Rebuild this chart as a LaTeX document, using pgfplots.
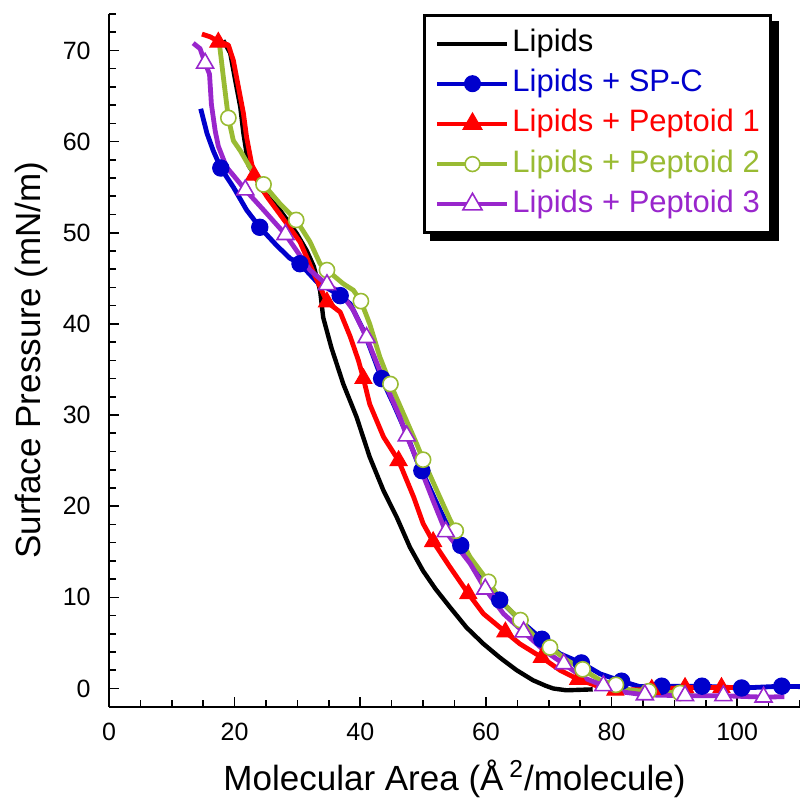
\documentclass[border=0pt]{standalone}
\usepackage{fontspec}
\setmainfont{Liberation Sans}
\usepackage{pgfplots}
\usepackage{pgfplotstable}
\pgfplotsset{compat=1.18}
\usetikzlibrary{backgrounds}
\definecolor{cblue}{RGB}{0,0,204}
\definecolor{cred}{RGB}{255,0,0}
\definecolor{cgreen}{RGB}{153,187,51}
\definecolor{cpurple}{RGB}{153,38,204}

\pgfplotstableread{
x y
18.2 71.1
19.3 69.7
20.1 66.7
20.9 63.8
21.4 60.9
22.2 57.4
23.5 56.0
24.0 55.0
25.5 53.8
27.2 52.5
29.9 49.9
31.5 48.0
32.6 46.3
33.6 43.7
34.1 40.7
35.4 37.4
37.3 33.4
39.4 29.8
41.5 25.4
43.7 21.7
45.8 18.8
47.9 15.5
50.0 12.9
52.0 10.9
54.3 8.9
56.9 6.7
59.6 4.9
62.2 3.4
64.9 2.0
67.5 0.9
69.5 0.3
70.7 0.0
72.8 -0.2
77.0 -0.1
}\tblack

\pgfplotstableread{
x y
14.6 63.6
15.6 60.9
16.6 59.0
17.8 57.1
19.8 55.0
21.9 52.5
24.0 50.6
26.7 48.6
28.8 47.2
30.4 46.6
33.1 44.6
36.8 43.1
38.4 42.2
40.5 39.3
42.1 36.4
43.4 34.0
45.3 31.2
47.4 27.9
49.0 25.0
49.8 23.9
52.2 20.3
54.3 17.3
56.0 15.7
59.1 12.2
62.2 9.7
65.4 7.5
68.9 5.4
71.8 3.8
75.2 2.8
78.2 1.6
81.6 0.8
84.5 0.2
88.0 0.25
94.4 0.25
100.7 0.05
107.1 0.25
110.0 0.2
}\tblue
\pgfplotstableread{
x y
17.8 57.1
24.0 50.6
30.4 46.6
36.8 43.1
43.4 34.0
49.8 23.9
56.0 15.7
62.2 9.7
68.9 5.4
75.2 2.8
81.6 0.8
88.0 0.25
94.4 0.25
100.7 0.05
107.1 0.25
}\mblue

\pgfplotstableread{
x y
14.8 71.8
16.1 71.5
17.4 71.0
19.0 70.6
19.8 68.9
20.6 66.0
21.4 63.1
21.9 60.5
22.7 57.6
23.1 56.3
25.1 54.0
28.3 51.0
30.4 49.0
32.5 45.7
34.7 42.4
36.8 41.3
38.4 38.6
39.7 36.0
40.5 34.0
41.5 31.2
43.7 27.6
46.1 25.0
48.5 21.0
50.0 18.1
51.6 16.1
54.3 13.3
57.2 10.4
59.6 8.2
63.1 6.2
65.4 4.9
68.9 3.4
71.8 2.0
74.7 1.0
77.6 0.3
80.6 -0.2
86.4 -0.1
91.7 0.1
97.5 0.1
99.3 0.1
}\tred
\pgfplotstableread{
x y
17.4 70.9
23.1 56.3
34.7 42.4
40.5 34.0
46.1 25.0
51.6 16.1
57.2 10.4
63.1 6.2
68.9 3.4
74.7 1.0
80.6 -0.2
86.4 -0.1
91.7 0.1
97.5 0.1
}\mred

\pgfplotstableread{
x y
17.6 70.6
18.2 67.1
19.0 62.6
19.8 60.1
20.9 59.0
22.4 57.2
24.6 55.3
27.2 53.2
29.8 51.4
32.0 49.0
33.6 46.6
34.7 45.9
37.3 44.4
38.9 43.7
40.1 42.5
41.5 40.0
43.1 36.4
44.8 33.4
46.9 30.1
49.0 26.8
50.0 25.1
52.2 21.7
54.3 18.5
55.2 17.3
57.5 14.4
60.4 11.7
62.8 9.3
65.5 7.5
68.1 5.4
70.2 4.5
72.9 3.1
75.4 2.1
78.2 0.9
80.7 0.4
83.0 -0.2
85.9 -0.3
90.9 -0.5
93.0 -0.5
}\tgreen
\pgfplotstableread{
x y
19.0 62.6
24.6 55.3
29.8 51.4
34.7 45.9
40.1 42.5
44.8 33.4
50.0 25.1
55.2 17.3
60.4 11.7
65.5 7.5
70.2 4.5
75.4 2.1
80.7 0.4
85.9 -0.3
90.9 -0.5
}\mgreen

\pgfplotstableread{
x y
13.4 70.8
14.5 70.2
15.3 68.6
16.0 67.4
16.3 64.1
16.9 61.2
17.4 59.5
18.7 57.2
19.8 56.3
21.7 54.7
24.6 52.5
28.1 49.8
30.2 47.7
32.0 45.9
34.7 44.3
36.8 43.5
38.9 41.5
41.0 38.5
43.1 34.9
44.7 32.3
46.3 29.8
47.4 27.7
49.5 24.3
51.6 20.6
53.6 17.2
57.5 13.7
59.9 10.9
62.8 8.2
66.0 6.2
69.2 4.2
72.4 2.7
75.5 1.2
78.7 0.3
81.9 -0.4
85.3 -0.7
91.7 -0.8
97.8 -0.8
104.2 -0.95
107.5 -0.9
}\tpurple
\pgfplotstableread{
x y
15.3 68.6
21.7 54.7
28.1 49.8
34.7 44.3
41.0 38.5
47.4 27.7
53.6 17.2
59.9 10.9
66.0 6.2
72.4 2.7
78.7 0.3
85.3 -0.7
91.7 -0.8
97.8 -0.8
104.2 -0.95
}\mpurple

\begin{document}
\begin{tikzpicture}
\begin{axis}[
  name=ax,
  scale only axis, width=345.5pt, height=346.35pt,
  xmin=0, xmax=110, ymin=-2, ymax=74,
  axis lines=left, axis line style={-, line width=1pt, black},
  xtick={0,20,...,100}, ytick={0,10,...,70},
  minor xtick={0,5,...,110}, minor ytick={-2,0,...,74},
  tick align=inside, major tick length=5pt, minor tick length=3.5pt,
  every tick/.style={black, line width=0.8pt},
  /pgf/number format/assume math mode=true,
  tick label style={font=\fontsize{12.5}{15}\selectfont},
  xticklabel style={anchor=north, inner sep=0pt, yshift=-8.2pt},
  yticklabel style={anchor=east, inner sep=0pt, xshift=-9pt},
  label style={font=\fontsize{17.5}{21}\selectfont},
  xlabel={Molecular Area (Å\,\textsuperscript{2}/molecule)},
  ylabel={Surface Pressure (mN/m)},
  xlabel style={at={(axis description cs:0.5,-0.1203)}, anchor=base},
  ylabel style={at={(axis description cs:-0.0984,0.5)}, anchor=base},
  legend cell align=left,
  legend style={name=leg, at={(axis description cs:0.4544,1)}, anchor=north west,
    draw=black, line width=1.5pt, fill=white,
    inner xsep=5.5pt, inner ysep=6.5pt, row sep=5.1pt, column sep=1.5pt,
    font=\fontsize{15.5}{18}\selectfont,
    nodes={inner sep=0pt, text height=11.5pt, text depth=3.5pt}},
  legend image code/.code={
    \draw[#1] (0pt,0pt) -- (35pt,0pt);
    \draw[#1] plot coordinates {(17.5pt,0pt)};
  },
]
% Lipids
\addplot[black, line width=2.2pt, line join=round, forget plot] table[x=x,y=y] {\tblack};
% SP-C
\addplot[cblue, line width=2.4pt, line join=round, forget plot] table[x=x,y=y] {\tblue};
\addplot[only marks, mark=*, mark size=4.1pt, mark options={fill=cblue, draw=cblue, line width=0.5pt}, forget plot] table[x=x,y=y] {\mblue};
% Peptoid 1
\addplot[cred, line width=2.4pt, line join=round, forget plot] table[x=x,y=y] {\tred};
\addplot[only marks, mark=triangle*, mark size=4.9pt, mark options={fill=cred, draw=cred, line width=0.5pt}, forget plot] table[x=x,y=y] {\mred};
% Peptoid 2
\addplot[cgreen, line width=2.4pt, line join=round, forget plot] table[x=x,y=y] {\tgreen};
\addplot[only marks, mark=*, mark size=3.8pt, mark options={fill=white, draw=cgreen, line width=0.8pt}, forget plot] table[x=x,y=y] {\mgreen};
% Peptoid 3
\addplot[cpurple, line width=2.4pt, line join=round, forget plot] table[x=x,y=y] {\tpurple};
\addplot[only marks, mark=triangle*, mark size=4.9pt, mark options={fill=white, draw=cpurple, line width=0.8pt}, forget plot] table[x=x,y=y] {\mpurple};

\addlegendimage{black, line width=2pt}
\addlegendentry{\textcolor{black}{Lipids}}
\addlegendimage{cblue, line width=2pt, mark=*, mark size=4pt, mark options={fill=cblue, draw=cblue, line width=0.5pt}}
\addlegendentry{\textcolor{cblue}{Lipids + SP-C}}
\addlegendimage{cred, line width=2pt, mark=triangle*, mark size=5.5pt, mark options={fill=cred, draw=cred, line width=0.5pt}}
\addlegendentry{\textcolor{cred}{Lipids + Peptoid 1}}
\addlegendimage{cgreen, line width=2pt, mark=*, mark size=3.7pt, mark options={fill=white, draw=cgreen, line width=0.8pt}}
\addlegendentry{\textcolor{cgreen}{Lipids + Peptoid 2}}
\addlegendimage{cpurple, line width=2pt, mark=triangle*, mark size=5.5pt, mark options={fill=white, draw=cpurple, line width=0.8pt}}
\addlegendentry{\textcolor{cpurple}{Lipids + Peptoid 3}}
\end{axis}
\begin{pgfonlayer}{background}
\fill[black] ([shift={(3.5pt,-3.5pt)}]leg.south west) rectangle ([shift={(3.5pt,-3.5pt)}]leg.north east);
\end{pgfonlayer}
\pgfresetboundingbox
\path ([xshift=-54.5pt,yshift=-50.65pt]ax.south west) rectangle ([yshift=7pt]ax.north east);
\end{tikzpicture}
\end{document}
